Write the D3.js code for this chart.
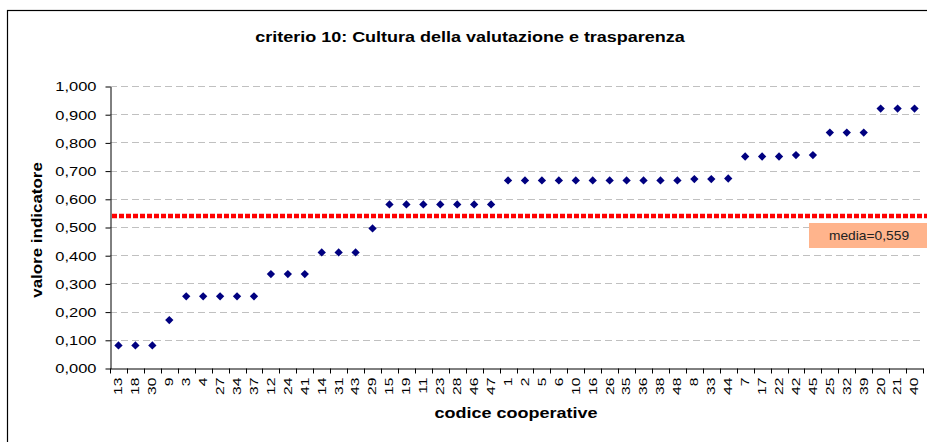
<!DOCTYPE html>
<html>
<head>
<meta charset="utf-8">
<script src="https://cdn.jsdelivr.net/npm/d3@7"></script>
<style>
  body { margin: 0; background: #fff; }
  svg { display: block; font-family: "Liberation Sans", Arial, sans-serif; }
</style>
</head>
<body>
<svg id="chart" width="927" height="442"></svg>
<script>
// codici cooperative, in ordine come nel grafico
var codici = ["13","18","30","9","3","4","27","34","37","12","24","41","14","31","43","29",
  "15","19","11","23","28","46","47","1","2","5","6","10","16","26","35","36","38","48",
  "8","33","44","7","17","22","42","45","25","32","39","20","21","40"];

// valore indicatore per ogni cooperativa
var valori = [0.080,0.080,0.080,0.170,0.254,0.254,0.254,0.254,0.254,0.333,0.333,0.333,
  0.410,0.410,0.410,0.495,
  0.580,0.580,0.580,0.580,0.580,0.580,0.580,
  0.665,0.665,0.665,0.665,0.665,0.665,0.665,0.665,0.665,0.665,0.665,
  0.670,0.670,0.672,
  0.750,0.750,0.750,0.755,0.755,
  0.835,0.835,0.835,0.920,0.920,0.920];

var yTicks = [0,0.1,0.2,0.3,0.4,0.5,0.6,0.7,0.8,0.9,1.0];
var mediaLinea = 0.539;
var mediaTesto = "media=0,559";

var svg = d3.select("#chart");
var margin = {left: 110, right: 4, top: 86, bottom: 74};
var W = 927, H = 442;

var x = d3.scaleBand().domain(codici).range([margin.left, W - margin.right]);
var y = d3.scaleLinear().domain([0, 1]).range([H - margin.bottom, margin.top]);

var fmt = function(v) { return d3.format(".3f")(v).replace(".", ","); };

// testo un po' allargato come nei grafici di Excel
function testo(px, py, s, opts) {
  opts = opts || {};
  var rot = opts.rotate ? " rotate(" + opts.rotate + ")" : "";
  return svg.append("text")
    .attr("transform", "translate(" + px + "," + py + ")" + rot + " scale(" + (opts.sx || 1.2) + ",1)")
    .attr("text-anchor", opts.anchor || "middle")
    .attr("font-size", (opts.size || 14) + "px")
    .attr("font-weight", opts.bold ? "bold" : "normal")
    .attr("fill", opts.fill || "#000")
    .text(s);
}

// cornice
svg.append("rect")
  .attr("x", 7.5).attr("y", 10.5)
  .attr("width", 930).attr("height", 440)
  .attr("fill", "none").attr("stroke", "#000").attr("stroke-width", 1.2);

// griglia
svg.append("g").selectAll("line")
  .data(yTicks.slice(1))
  .enter().append("line")
  .attr("x1", margin.left).attr("x2", W - margin.right)
  .attr("y1", function(d){ return Math.round(y(d)) + 0.5; })
  .attr("y2", function(d){ return Math.round(y(d)) + 0.5; })
  .attr("stroke", "#c0c0c0").attr("stroke-dasharray", "7,4");

// asse y
var yAxis = svg.append("g")
  .attr("transform", "translate(" + (margin.left + 0.5) + ",0.5)")
  .call(d3.axisLeft(y).tickValues(yTicks).tickFormat(fmt).tickSize(5).tickSizeOuter(0));
yAxis.select(".domain").attr("stroke", "#000");
yAxis.selectAll(".tick line").attr("stroke", "#000");
yAxis.selectAll("text").attr("font-size", "13.5px").attr("fill", "#000")
  .attr("font-family", "Liberation Sans, Arial, sans-serif")
  .attr("x", 0)
  .attr("transform", "translate(-14,0) scale(1.22,1)");

// asse x
var xAxis = svg.append("g")
  .attr("transform", "translate(0," + (Math.round(y(0)) + 0.5) + ")")
  .call(d3.axisBottom(x).tickSize(0).tickSizeOuter(0));
xAxis.select(".domain").attr("stroke", "#000");
xAxis.selectAll("text")
  .attr("font-size", "11px").attr("fill", "#000")
  .attr("font-family", "Liberation Sans, Arial, sans-serif")
  .attr("text-anchor", "end")
  .attr("x", 0).attr("y", 0).attr("dy", "0.35em")
  .attr("transform", "rotate(-90) translate(-9,0) scale(1.42,1)");
// tacche tra le categorie
xAxis.append("g").selectAll("line")
  .data(codici.concat(["_end"]))
  .enter().append("line")
  .attr("x1", function(d, i){ return Math.round(margin.left + i * x.step()) + 0.5; })
  .attr("x2", function(d, i){ return Math.round(margin.left + i * x.step()) + 0.5; })
  .attr("y1", 0).attr("y2", 5)
  .attr("stroke", "#000");

// linea media
svg.append("line")
  .attr("x1", margin.left + 2).attr("x2", W)
  .attr("y1", y(mediaLinea)).attr("y2", y(mediaLinea))
  .attr("stroke", "#ff0000").attr("stroke-width", 4.5)
  .attr("stroke-dasharray", "5,2");

// punti
var diamond = d3.symbol().type(d3.symbolDiamond2).size(44);
svg.append("g").selectAll("path")
  .data(valori)
  .enter().append("path")
  .attr("d", diamond)
  .attr("transform", function(d, i){
    return "translate(" + (x(codici[i]) + x.bandwidth() / 2) + "," + y(d) + ")";
  })
  .attr("fill", "#000080");

// etichetta media
svg.append("rect")
  .attr("x", 809).attr("y", 223).attr("width", 120).attr("height", 25)
  .attr("fill", "#ffb48c");
testo(869, 240, mediaTesto, {size: 12, sx: 1.15, fill: "#222"});

// titoli
testo(470, 42, "criterio 10: Cultura della valutazione e trasparenza", {size: 15, bold: true, sx: 1.2});
testo(42, 230, "valore indicatore", {size: 15, bold: true, sx: 1.13, rotate: -90});
testo(516, 418, "codice cooperative", {size: 15, bold: true, sx: 1.2});
</script>
</body>
</html>
